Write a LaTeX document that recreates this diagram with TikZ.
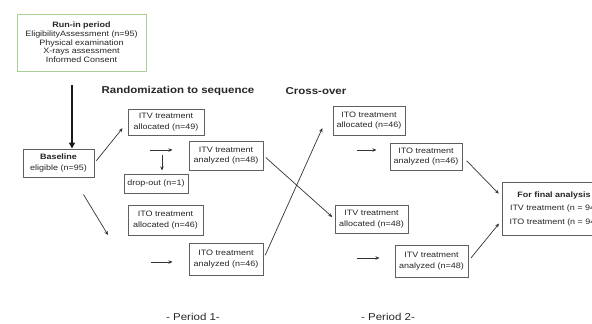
\documentclass[tikz,border=0pt]{standalone}
\usepackage{fontspec}
\setmainfont[FakeStretch=1.15]{Liberation Sans}
\usetikzlibrary{arrows.meta,positioning}
\definecolor{runborder}{RGB}{170,208,150}
\definecolor{boxborder}{RGB}{95,95,95}
\tikzset{
  flow/.style={-{Stealth[length=4pt,width=3.5pt]},line width=0.7pt,black!80},
  bigflow/.style={-{Triangle[length=6pt,width=6pt]},line width=2.6pt,black!90},
  trial/.style={draw=boxborder,line width=1pt,fill=white,align=center,
                inner sep=1pt,font=\fontsize{7.8}{10.5}\selectfont,text=black!85},
  runin/.style={trial,draw=runborder,line width=0.8pt,font=\fontsize{7.8}{8.7}\selectfont},
  heading/.style={font=\fontsize{10}{12}\selectfont\bfseries,text=black!85},
  period/.style={font=\fontsize{10}{12}\selectfont,text=black!85},
}

\begin{document}
\begin{tikzpicture}[x=1pt,y=-1pt]
  \path[use as bounding box] (0,0) rectangle (592,324);

  \node[runin,minimum width=129pt,minimum height=57pt] (runin) at (81.5,42.5)
    {\textbf{Run-in period}\\EligibilityAssessment (n=95)\\Physical examination\\X-rays assessment\\Informed Consent};

  \node[heading] (rand) at (178,91) {Randomization to sequence};
  \node[heading] (cross) at (316,91) {Cross-over};

  \node[trial,minimum width=71pt,minimum height=28pt] (baseline) at (58.5,163)
    {\textbf{Baseline}\\eligible (n=95)};

  % period 1
  \node[trial,minimum width=76pt,minimum height=26pt] (itvalloc1) at (166,122)
    {ITV treatment\\allocated (n=49)};
  \node[trial,minimum width=74pt,minimum height=29pt] (itvana1) at (226,155.5)
    {ITV treatment\\analyzed (n=48)};
  \node[trial,minimum width=64pt,minimum height=19pt] (dropout) at (156,183.5)
    {drop-out (n=1)};
  \node[trial,minimum width=75pt,minimum height=30pt] (itoalloc1) at (165.5,220)
    {ITO treatment\\allocated (n=46)};
  \node[trial,minimum width=74pt,minimum height=32pt] (itoana1) at (226,259)
    {ITO treatment\\analyzed (n=46)};

  % period 2
  \node[trial,minimum width=72pt,minimum height=29pt] (itoalloc2) at (369,120.5)
    {ITO treatment\\allocated (n=46)};
  \node[trial,minimum width=72pt,minimum height=27pt] (itoana2) at (426,156.5)
    {ITO treatment\\analyzed (n=46)};
  \node[trial,minimum width=73pt,minimum height=28pt] (itvalloc2) at (371.5,219)
    {ITV treatment\\allocated (n=48)};
  \node[trial,minimum width=73pt,minimum height=32pt] (itvana2) at (431.5,261)
    {ITV treatment\\analyzed (n=48)};

  \node[trial,minimum width=104pt,minimum height=53pt,font=\fontsize{7.8}{13.5}\selectfont] (final) at (554,208.5)
    {\textbf{For final analysis}\\ITV treatment (n = 94)\\ITO treatment (n = 94)};

  \node[period] (per1) at (193,317) {- Period 1-};
  \node[period] (per2) at (388,317) {- Period 2-};

  \draw[bigflow] ([xshift=-9.5pt,yshift=-14pt]runin.south) coordinate (drop0)
    -- (drop0 |- baseline.north);

  \draw[flow,shorten <=3pt,shorten >=8pt] (baseline.east) -- (itvalloc1.west);
  \coordinate (itoin1) at (108,235);
  \draw[flow] ([xshift=25pt,yshift=-17pt]baseline.south) -- (itoin1);

  \draw[flow] ([xshift=-39pt,yshift=5.5pt]itvana1.west) -- ([xshift=-16pt,yshift=5.5pt]itvana1.west);
  \draw[flow] ([xshift=6pt,yshift=19pt]dropout.north) -- ([xshift=6pt,yshift=3pt]dropout.north);
  \draw[flow] ([xshift=-38pt,yshift=-3pt]itoana1.west) -- ([xshift=-16pt,yshift=-3pt]itoana1.west);

  \draw[flow,shorten <=3pt,shorten >=3pt] (itvana1.east) -- (itvalloc2.west);
  \draw[flow,shorten <=4pt,shorten >=3pt] (itoana1.east) -- ([xshift=-9pt,yshift=-5pt]itoalloc2.west);

  \draw[flow] ([xshift=-33pt,yshift=6.5pt]itoana2.west) -- ([xshift=-13pt,yshift=6.5pt]itoana2.west);
  \draw[flow] ([xshift=-38pt,yshift=3pt]itvana2.west) -- ([xshift=-15pt,yshift=3pt]itvana2.west);

  \draw[flow,shorten <=6pt,shorten >=4pt] (itoana2.east) -- ([yshift=12pt]final.west);
  \draw[flow,shorten <=4pt,shorten >=4pt] (itvana2.east) -- ([yshift=-12pt]final.west);
\end{tikzpicture}
\end{document}
